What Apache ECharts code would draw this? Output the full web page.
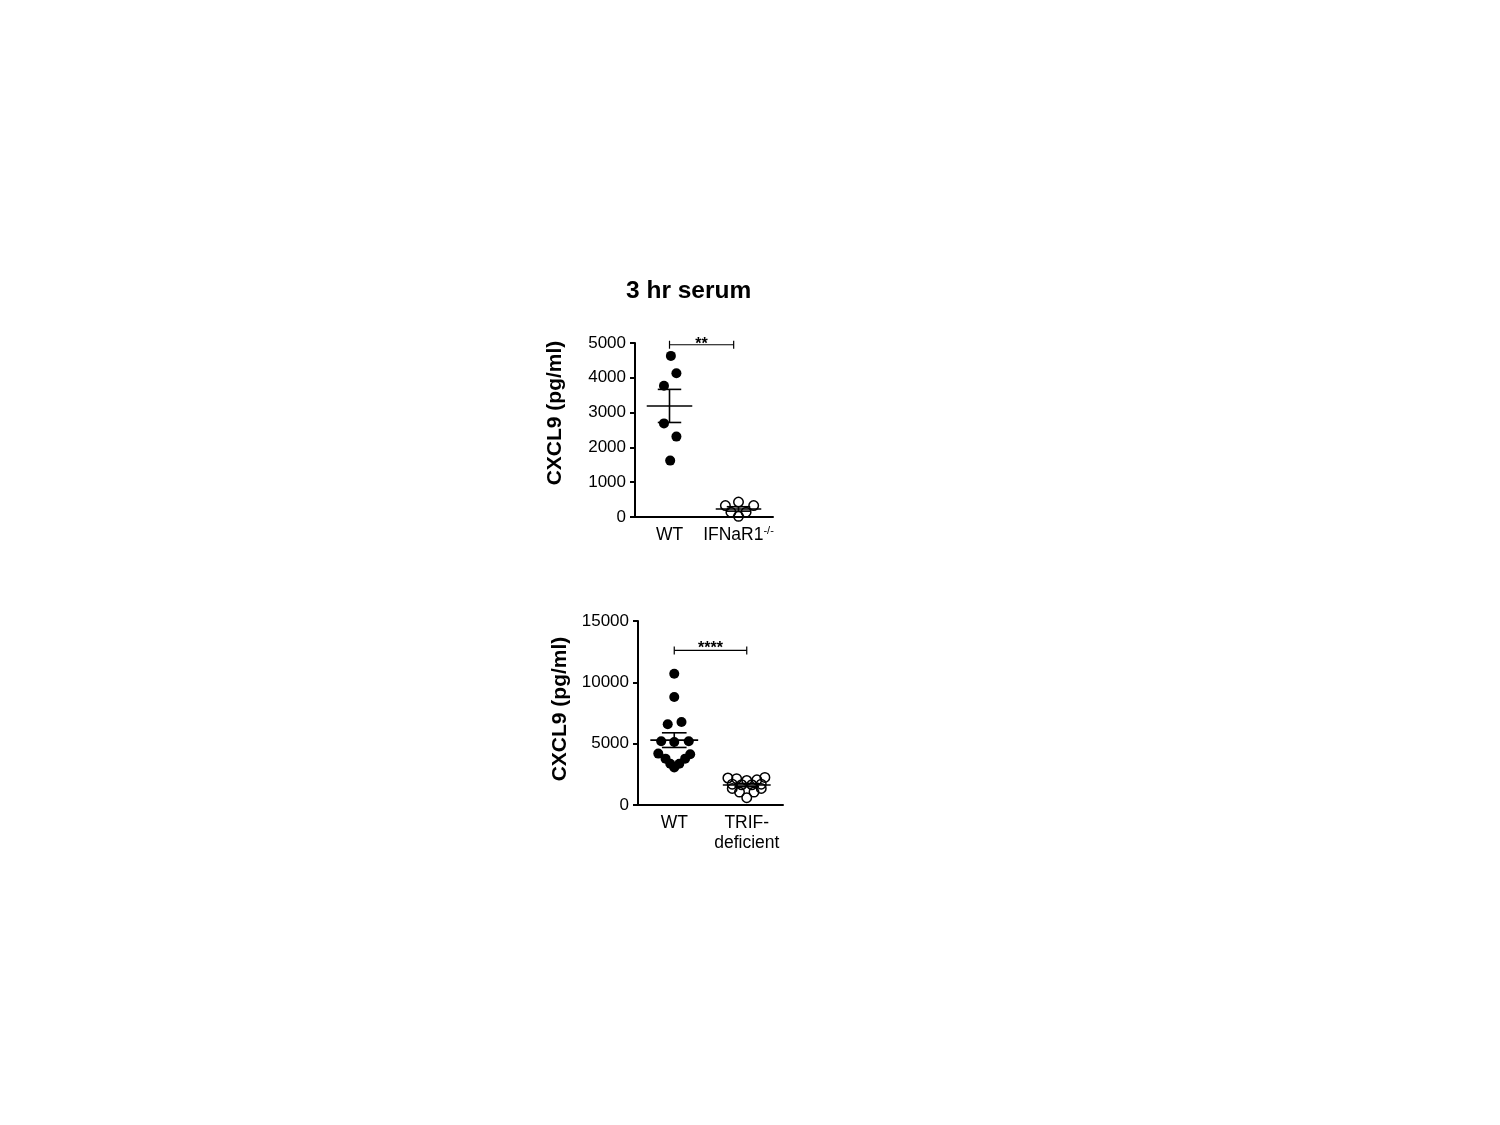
<!DOCTYPE html>
<html><head><meta charset="utf-8">
<script src="https://cdn.jsdelivr.net/npm/echarts@6/dist/echarts.min.js"></script>
<style>html,body{margin:0;padding:0;background:#fff}#c{width:1500px;height:1125px}</style>
</head><body><div id="c"></div>
<script>
const FONT = '"Liberation Sans", Arial, Helvetica, sans-serif';
const titleText = '3 hr serum';
const yAxisName = 'CXCL9 (pg/ml)';

// ---- top panel data ----
const topCategories = ['WT', 'IFNaR1-/-'];
const topYMax = 5000, topYStep = 1000;
const topWT = [4630, 4130, 3770, 2690, 2310, 1620];
const topWTJitter = [0.02, 0.1, -0.08, -0.08, 0.1, 0.01];
const topKO = [330, 430, 330, 140, 140, 20];
const topKOJitter = [-0.19, 0, 0.22, -0.11, 0.11, 0];
const topSig = '**';
const topBracket = [1, 1.93, 4950];

// ---- bottom panel data ----
const bottomCategories = ['WT', 'TRIF-\ndeficient'];
const bottomYMax = 15000, bottomYStep = 5000;
const bottomWT = [10700, 8800, 6580, 6770, 5190, 5130, 5190, 4190, 3780, 3370, 3050, 3370, 3780, 4130];
const bottomWTJitter = [0, 0, -0.09, 0.1, -0.18, 0, 0.2, -0.22, -0.12, -0.055, 0, 0.07, 0.15, 0.22];
const bottomKO = [2200, 2150, 2000, 2050, 2250, 1700, 1650, 1650, 1700, 1350, 1050, 1050, 1350, 600];
const bottomKOJitter = [-0.26, -0.14, 0, 0.14, 0.25, -0.2, -0.07, 0.07, 0.2, -0.2, -0.1, 0.1, 0.2, 0];
const bottomSig = '****';
const bottomBracket = [1, 2, 12600];

function pts(group, vals, jit) { return vals.map((v, i) => [group + jit[i], v]); }
function stats(a) {
  const n = a.length, m = a.reduce((s, v) => s + v, 0) / n;
  const sd = Math.sqrt(a.reduce((s, v) => s + (v - m) * (v - m), 0) / (n - 1));
  return [m, sd / Math.sqrt(n)];
}
const LW = 1.6;
function renderMean(params, api) {
  const x = api.value(0), m = api.value(1), s = api.value(2);
  const p = (xx, yy) => api.coord([xx, yy]);
  const st = { stroke: '#000', lineWidth: LW, fill: null };
  const seg = (a, b) => ({ type: 'line', shape: { x1: a[0], y1: a[1], x2: b[0], y2: b[1] }, style: st });
  return { type: 'group', children: [
    seg(p(x - 0.33, m), p(x + 0.33, m)),
    seg(p(x, m + s), p(x, m - s)),
    seg(p(x - 0.17, m + s), p(x + 0.17, m + s)),
    seg(p(x - 0.17, m - s), p(x + 0.17, m - s))
  ]};
}
function makeBracket(text, dy) {
  return function (params, api) {
    const a = api.coord([api.value(0), api.value(2)]);
    const b = api.coord([api.value(1), api.value(2)]);
    const st = { stroke: '#000', lineWidth: 1.2, fill: null };
    return { type: 'group', children: [
      { type: 'line', shape: { x1: a[0], y1: a[1], x2: b[0], y2: b[1] }, style: st },
      { type: 'line', shape: { x1: a[0], y1: a[1] - 4, x2: a[0], y2: a[1] + 4 }, style: st },
      { type: 'line', shape: { x1: b[0], y1: b[1] - 4, x2: b[0], y2: b[1] + 4 }, style: st },
      { type: 'text', x: (a[0] + b[0]) / 2, y: a[1] + dy, style: { text: text, align: 'center', verticalAlign: 'middle',
        fontSize: 16, fontWeight: 'bold', fontFamily: FONT, fill: '#000' } }
    ]};
  };
}

const axisLineStyle = { color: '#000', width: 2 };
function catAxis(grid, cats) {
  return {
    type: 'category', gridIndex: grid, data: cats, boundaryGap: true,
    axisLine: { lineStyle: axisLineStyle },
    axisTick: { alignWithLabel: true, length: 5, lineStyle: { color: '#000', width: 2 } },
    axisLabel: {
      interval: 0, margin: 8, color: '#000', fontSize: 17.5, fontFamily: FONT, lineHeight: 20,
      formatter: v => v.indexOf('-/-') > 0 ? '{a|' + v.replace('-/-', '') + '}{s|-/-}' : v,
      rich: {
        a: { fontSize: 17.5, fontFamily: FONT, color: '#000', lineHeight: 20 },
        s: { fontSize: 11, fontFamily: FONT, color: '#000', verticalAlign: 'top', lineHeight: 20 }
      }
    }
  };
}
function valXAxis(grid) { return { type: 'value', gridIndex: grid, min: 0.5, max: 2.5, show: false }; }
function valYAxis(grid, max, step, gap, namePad) {
  return {
    type: 'value', gridIndex: grid, min: 0, max: max, interval: step,
    name: yAxisName, nameLocation: 'middle', nameGap: gap, nameRotate: 90,
    nameTextStyle: { fontSize: 21, fontWeight: 'bold', fontFamily: FONT, color: '#000', padding: namePad },
    axisLine: { show: true, lineStyle: axisLineStyle },
    axisTick: { show: true, length: 5, lineStyle: { color: '#000', width: 2 } },
    splitLine: { show: false },
    axisLabel: { color: '#000', fontSize: 17, fontFamily: FONT, margin: 9, formatter: v => String(v) }
  };
}
const filled = { color: '#000', opacity: 1 };
const hollow = { color: 'rgba(255,255,255,0)', borderColor: '#000', borderWidth: 1.5, opacity: 1 };

const tWT = stats(topWT), tKO = stats(topKO), bWT = stats(bottomWT), bKO = stats(bottomKO);

const option = {
  animation: false,
  backgroundColor: '#fff',
  title: { text: titleText, left: 626, top: 279, padding: 0,
    textStyle: { fontSize: 24.5, fontWeight: 'bold', fontFamily: FONT, color: '#000' } },
  grid: [
    { left: 635, top: 343, width: 138, height: 174 },
    { left: 638, top: 621, width: 145, height: 184 }
  ],
  xAxis: [catAxis(0, topCategories), valXAxis(0), catAxis(1, bottomCategories), valXAxis(1)],
  yAxis: [valYAxis(0, topYMax, topYStep, 69, [0, 0, 0, 34]), valYAxis(1, bottomYMax, bottomYStep, 67, [0, 0, 0, 8])],
  series: [
    { type: 'scatter', xAxisIndex: 1, yAxisIndex: 0, data: pts(1, topWT, topWTJitter), symbolSize: 10, itemStyle: filled, silent: true },
    { type: 'scatter', xAxisIndex: 1, yAxisIndex: 0, data: pts(2, topKO, topKOJitter), symbolSize: 9.5, itemStyle: hollow, silent: true },
    { type: 'custom', xAxisIndex: 1, yAxisIndex: 0, renderItem: renderMean, data: [[1, tWT[0], tWT[1]], [2, tKO[0], tKO[1]]], silent: true, z: 5 },
    { type: 'custom', xAxisIndex: 1, yAxisIndex: 0, renderItem: makeBracket(topSig, 0), data: [topBracket], silent: true },
    { type: 'scatter', xAxisIndex: 3, yAxisIndex: 1, data: pts(1, bottomWT, bottomWTJitter), symbolSize: 10, itemStyle: filled, silent: true },
    { type: 'scatter', xAxisIndex: 3, yAxisIndex: 1, data: pts(2, bottomKO, bottomKOJitter), symbolSize: 9.5, itemStyle: hollow, silent: true },
    { type: 'custom', xAxisIndex: 3, yAxisIndex: 1, renderItem: renderMean, data: [[1, bWT[0], bWT[1]], [2, bKO[0], bKO[1]]], silent: true, z: 5 },
    { type: 'custom', xAxisIndex: 3, yAxisIndex: 1, renderItem: makeBracket(bottomSig, -2), data: [bottomBracket], silent: true }
  ]
};
const chart = echarts.init(document.getElementById('c'), null, { renderer: 'canvas' });
chart.setOption(option);
</script></body></html>
